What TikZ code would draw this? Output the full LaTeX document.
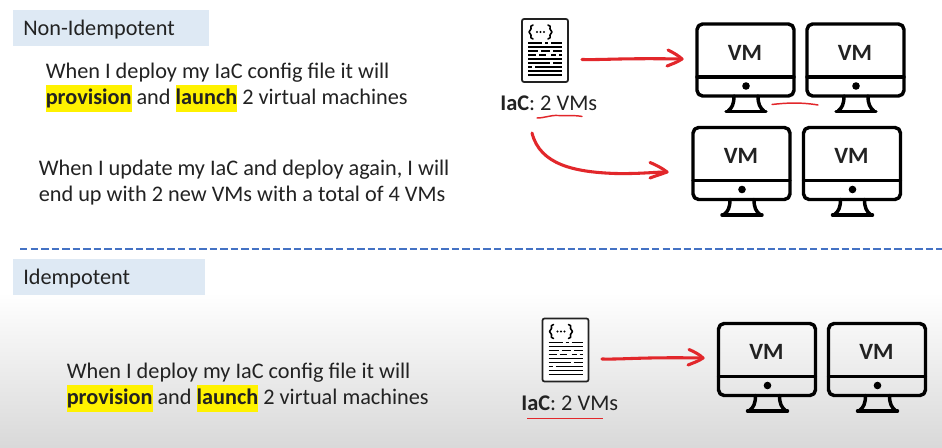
\documentclass[tikz,border=0pt]{standalone}
\usepackage{fontspec}
\setmainfont{Carlito}
\usetikzlibrary{calc}
\definecolor{txt}{HTML}{222222}
\definecolor{lbl}{HTML}{DEE9F4}
\definecolor{hand}{HTML}{E2272B}
\definecolor{sepblue}{HTML}{4472C4}
\definecolor{hly}{HTML}{FFF200}
\setlength{\fboxsep}{0pt}
\newcommand{\hlword}[1]{{\setlength{\fboxsep}{0pt}\colorbox{hly}{\rule[-5.2pt]{0pt}{20pt}\textbf{#1}}}}
\tikzset{
  x=0.75pt,y=-0.75pt,
  body/.style={font=\fontsize{16.7pt}{20pt}\selectfont,text=txt,anchor=base west,inner sep=0pt},
  tagtext/.style={font=\fontsize{16.7pt}{20pt}\selectfont,text=txt,anchor=west,inner sep=0pt},
  lblbox/.style={fill=lbl,draw=none,anchor=north west,inner sep=0pt},
  captext/.style={font=\fontsize{16.8pt}{20pt}\selectfont,text=txt,anchor=base west,inner sep=0pt},
  redpen/.style={draw=hand,line width=2.3pt,line cap=round,line join=round},
  thinpen/.style={draw=hand,line width=1.1pt,line cap=round},
  vmline/.style={draw=black,line width=2.6pt,line cap=round,line join=round},
  vmtext/.style={font=\fontsize{17.5pt}{20pt}\selectfont\bfseries,text=txt,inner sep=0pt},
  pics/vm/.style={code={
    \draw[vmline,rounded corners=4.2pt] (0,0) rectangle (97,72);
    \draw[vmline] (0,53) -- (97,53);
    \fill[black] (49,62) circle (2.85pt);
    \draw[vmline] (37,72) .. controls (37,80) and (35,84) .. (31,87) (61,72) .. controls (61,80) and (63,84) .. (67,87);
    \draw[vmline] (29,87.5) -- (69,87.5);
    \node[vmtext] (#1) at (48,28.5) {VM};
  }},
  pics/doc/.style={code={
    \draw[draw=txt,line width=1.3pt,rounded corners=1.5pt,fill=white] (0,0) rectangle (46,63);
    \draw[black,line width=1.2pt,line cap=round,line join=round]
      (11,6) .. controls (8,6) and (9,8) .. (9,10) -- (7,13) -- (9,16) .. controls (9,18) and (8,20) .. (11,20)
      (26,6) .. controls (29,6) and (28,8) .. (28,10) -- (30,13) -- (28,16) .. controls (28,18) and (29,20) .. (26,20);
    \fill[black] (15,13) circle (0.8pt) (18.5,13) circle (0.8pt) (22,13) circle (0.8pt);
    \draw[black,line width=1.3pt]
      (6,24) -- (20,24) (23,24) -- (26,24) (29,24) -- (40,24)
      (6,28) -- (40,28)
      (6,32) -- (16,32) (19,32) -- (28,32) (31,32) -- (40,32)
      (6,36) -- (14,36) (17,36) -- (24,36) (29,36) -- (34,36) (37,36) -- (40,36)
      (6,40) -- (40,40)
      (6,44) -- (28,44) (31,44) -- (40,44)
      (6,48) -- (10,48) (13,48) -- (40,48)
      (6,52) -- (40,52)
      (6,56) -- (40,56);
  }},
}
\begin{document}
\begin{tikzpicture}
\useasboundingbox (0,0) rectangle (942,448);
\fill[white] (0,0) rectangle (942,448);
\shade[top color=white,bottom color=black!15] (0,292) rectangle (942,448);

% headings
\node[lblbox,minimum width=147pt,minimum height=27pt] (boxA) at (13,10) {};
\node[tagtext] (tagA) at (23,30) {Non-Idempotent};
\node[lblbox,minimum width=144pt,minimum height=27pt] (boxB) at (13,259) {};
\node[tagtext] (tagB) at (23,279) {Idempotent};

% separator
\coordinate (sepL) at (20,249);
\coordinate (sepR) at (942,249);
\draw[sepblue,line width=2.1pt,dash pattern=on 5.6pt off 2.3pt] (sepL) -- (sepR);

% body text
\node[body] (a1) at (45.5,79) {When I deploy my IaC config file it will};
\node[body] (a2) at (45.5,105) {\hlword{provision} and \hlword{launch} 2 virtual machines};
\node[body] (a3) at (38.5,175.5) {When I update my IaC and deploy again, I will};
\node[body] (a4) at (38.5,201.5) {end up with 2 new VMs with a total of 4 VMs};
\node[body] (b1) at (66.5,379) {When I deploy my IaC config file it will};
\node[body] (b2) at (66.5,405) {\hlword{provision} and \hlword{launch} 2 virtual machines};

% documents
\pic at (522,19) {doc};
\pic at (542.5,318.5) {doc};
\node[captext] (capA) at (500,111) {\textbf{IaC}: 2 VMs};
\node[captext] (capB) at (521,411) {\textbf{IaC}: 2 VMs};

% monitors
\pic at (697,24) {vm={vmA}};
\pic at (807,24) {vm={vmB}};
\pic at (693,127.5) {vm={vmC}};
\pic at (803.5,127.5) {vm={vmD}};
\pic at (718.5,323.5) {vm={vmE}};
\pic at (828.5,323.5) {vm={vmF}};

% hand-drawn arrows
\coordinate (arAs) at (582,59.5);
\coordinate (arAe) at (682,59);
\draw[redpen] (arAs) .. controls (605,60) and (620,58) .. (arAe);
\draw[redpen] (668,50) .. controls (674,53) and (679,56) .. (arAe) .. controls (678,62) and (672,64) .. (667,66);
\coordinate (arBs) at (532,133);
\coordinate (arBe) at (667,172);
\draw[redpen] (arBs) .. controls (540,165) and (575,172) .. (615,173.5) .. controls (640,174) and (655,172) .. (arBe);
\draw[redpen] (650,162.5) .. controls (656,165) and (662,168) .. (arBe) .. controls (662,174) and (655,176) .. (650,178);
\coordinate (arCs) at (602,359);
\coordinate (arCe) at (703,358);
\draw[redpen] (arCs) .. controls (625,359.5) and (640,357) .. (arCe);
\draw[redpen] (689,349.5) .. controls (695,352) and (700,355) .. (arCe) .. controls (699,361) and (693,363) .. (688,365);

% hand-drawn underlines
\draw[thinpen] (537,118) .. controls (545,118) and (550,115) .. (558,115.5) .. controls (566,116) and (575,115) .. (582,116.5);
\draw[thinpen] (772,104.5) .. controls (785,103) and (800,102) .. (818,105);
\draw[hand,line width=1.2pt] (527,418.5) -- (603,418.5);
\end{tikzpicture}
\end{document}
